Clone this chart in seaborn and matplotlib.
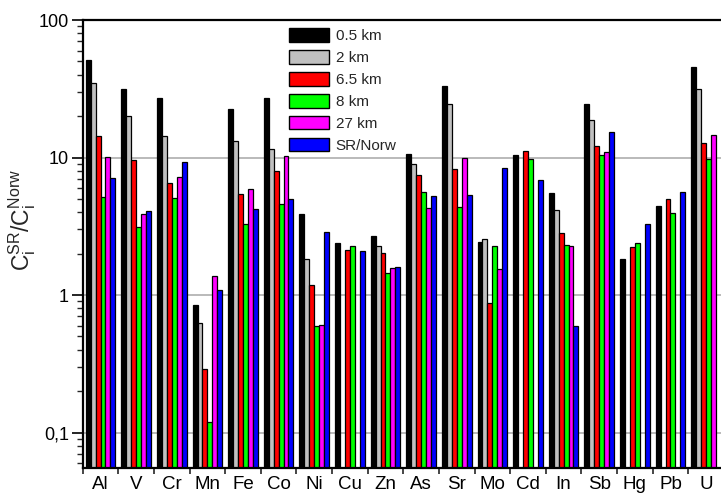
import numpy as np
import pandas as pd
import matplotlib
matplotlib.use("Agg")
import matplotlib.pyplot as plt
import matplotlib.ticker as mticker
import seaborn as sns

# Enrichment factors C_i(SR) / C_i(Norway) per element and sampling distance
elements = ["Al", "V", "Cr", "Mn", "Fe", "Co", "Ni", "Cu", "Zn",
            "As", "Sr", "Mo", "Cd", "In", "Sb", "Hg", "Pb", "U"]
series_names = ["0.5 km", "2 km", "6.5 km", "8 km", "27 km", "SR/Norw"]

km_0_5 = [51.0, 31.3, 27.3, 0.85, 22.6, 27.3, 3.86, 2.41, 2.67,
          10.7, 33.0, 2.43, 10.4, 5.54, 24.4, 1.83, 4.41, 45.6]
km_2 = [34.9, 20.1, 14.3, 0.63, 13.2, 11.5, 1.83, np.nan, 2.28,
        8.91, 24.6, 2.54, np.nan, 4.15, 18.8, np.nan, np.nan, 31.6]
km_6_5 = [14.4, 9.57, 6.48, 0.291, 5.42, 7.93, 1.18, 2.12, 2.01,
          7.45, 8.19, 0.871, 11.1, 2.81, 12.2, 2.23, 4.98, 12.7]
km_8 = [5.2, 3.12, 5.07, 0.119, 3.28, 4.61, 0.595, 2.27, 1.44,
        5.60, 4.34, 2.28, 9.73, 2.33, 10.4, 2.41, 3.92, 9.73]
km_27 = [10.07, 3.88, 7.17, 1.38, 5.93, 10.2, 0.605, np.nan, 1.57,
         4.27, 9.95, 1.54, np.nan, 2.27, 10.9, np.nan, np.nan, 14.5]
sr_norw = [7.05, 4.08, 9.3, 1.09, 4.24, 4.98, 2.88, 2.10, 1.59,
           5.27, 5.36, 8.33, 6.82, 0.595, 15.4, 3.30, 5.63, np.nan]

bar_colors = ["#000000", "#C0C0C0", "#FF0000", "#00FF00", "#FF00FF", "#0000FF"]

frames = []
for name, vals in zip(series_names, [km_0_5, km_2, km_6_5, km_8, km_27, sr_norw]):
    frames.append(pd.DataFrame({"element": elements, "series": name, "ratio": vals}))
df = pd.concat(frames, ignore_index=True)

sns.set_theme(style="white")
plt.rcParams["font.family"] = ["Liberation Sans", "DejaVu Sans"]
plt.rcParams["mathtext.fontset"] = "custom"
plt.rcParams["mathtext.rm"] = "Liberation Sans"
plt.rcParams["mathtext.it"] = "Liberation Sans"

fig = plt.figure(figsize=(7.21, 4.94), dpi=100)
ax = fig.add_axes([0.1147, 0.0526, 0.8893, 0.9069])
ax.set_yscale("log")

sns.barplot(data=df, x="element", y="ratio", hue="series",
            order=elements, hue_order=series_names, palette=bar_colors,
            width=0.83, gap=0, errorbar=None, edgecolor="black",
            linewidth=0.9, saturation=1, ax=ax)

ax.set_ylim(0.0553, 100)
ax.set_xlim(-0.5, len(elements) - 0.5)

# horizontal grid at the decades
ax.yaxis.grid(True, which="major", color="#B4B4B4", linewidth=1.3)
ax.xaxis.grid(False)
ax.set_axisbelow(True)

# axis frame
for side in ["left", "bottom", "top", "right"]:
    ax.spines[side].set_visible(True)
    ax.spines[side].set_color("black")
    ax.spines[side].set_linewidth(1.6)

# y ticks: decades with comma decimal separator
ax.yaxis.set_major_locator(mticker.FixedLocator([0.1, 1, 10, 100]))
ax.yaxis.set_major_formatter(mticker.FixedFormatter(["0,1", "1", "10", "100"]))
ax.yaxis.set_minor_locator(mticker.LogLocator(base=10, subs=np.arange(2, 10)))
ax.yaxis.set_minor_formatter(mticker.NullFormatter())
ax.tick_params(axis="y", which="major", direction="out", length=8, width=1.2,
               labelsize=13, colors="black", left=True, right=False, pad=2)
ax.tick_params(axis="y", which="minor", direction="out", length=4.5, width=1.0,
               left=True, right=False)

# x ticks: labels at group centres, tick marks at group boundaries
ax.set_xticks(np.arange(len(elements)))
ax.set_xticklabels(elements)
ax.set_xticks(np.arange(-0.5, len(elements)), minor=True)
ax.tick_params(axis="x", which="major", length=0, labelsize=13.5, pad=6, colors="black")
ax.tick_params(axis="x", which="minor", direction="out", length=4, width=1.2,
               bottom=True, top=False)

ax.set_xlabel("")
ax.set_ylabel(r"$\mathregular{C_i^{SR}/C_i^{Norw}}$", fontsize=16.5)
ax.yaxis.set_label_coords(-0.069, 0.553)

sns.move_legend(ax, "upper left", bbox_to_anchor=(289 / 721, 1 - 28 / 494),
                bbox_transform=fig.transFigure, frameon=False, title=None,
                fontsize=11, handlelength=2.6, handleheight=1.0,
                labelspacing=0.45, handletextpad=0.45, borderpad=0,
                borderaxespad=0)
for h in ax.get_legend().legend_handles:
    h.set_edgecolor("black")
    h.set_linewidth(1.0)

fig.savefig("out.png", dpi=100)
